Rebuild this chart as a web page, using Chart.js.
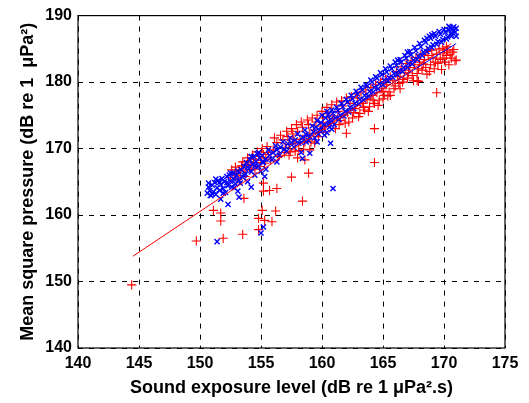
<!DOCTYPE html>
<html>
<head>
<meta charset="utf-8">
<script src="https://cdn.jsdelivr.net/npm/chart.js@4.4.1/dist/chart.umd.min.js"></script>
<style>
  html, body { margin: 0; padding: 0; background: #fff; }
  #chart { display: block; }
</style>
</head>
<body>
<canvas id="chart" width="529" height="403"></canvas>
<script>
// sound exposure level (x) and mean square pressure (y), dB
const redSEL = [
  144.4, 149.7, 151.9, 153.5, 154.8, 151.1, 151.7, 151.7, 155.1, 154.8, 155.3, 155.9, 156.2, 158.4, 157.5, 158.9,
  155.2, 155.2, 155.7, 156.3, 153.6, 162.0, 164.3, 164.3, 169.4, 165.0, 165.6, 166.4, 167.8,
  152.5, 152.8, 153.0, 153.2, 153.3, 153.4, 153.6, 153.8, 154.0, 154.2, 154.4, 154.6, 154.8, 155.0, 155.2, 155.4, 155.6,
  156.0, 156.3, 156.5, 156.8, 157.0, 157.2, 157.4, 157.6, 157.8, 158.0, 158.2, 158.4, 158.5, 158.7, 158.9, 159.1,
  159.3, 159.5, 159.7, 159.9, 160.1, 160.3, 160.5, 160.7, 160.9, 161.1, 161.3, 161.5, 161.7, 161.9, 162.1, 162.3,
  162.5, 162.7, 162.9, 163.1, 163.3, 163.5, 163.7, 163.9, 164.1, 164.3, 164.5, 164.7, 164.9, 165.1, 165.3, 165.5,
  157.3, 158.0, 158.6, 159.0, 157.8,
  165.8, 166.0, 166.2, 166.4, 166.6, 166.8, 167.0, 167.2, 167.4, 167.6, 167.8, 168.0, 168.2, 168.4, 168.5, 168.7,
  168.9, 169.1, 169.2, 169.4, 169.5, 169.7, 169.8, 170.0, 170.1, 170.3, 170.4, 170.6, 170.9, 170.7, 169.9, 168.6,
  167.9, 170.2
];
const redMSP = [
  149.5, 156.1, 156.5, 157.1, 157.8, 160.7, 160.3, 159.1, 160.7, 159.5, 159.2, 159.0, 160.6, 162.1, 165.7, 166.3,
  164.8, 163.6, 163.7, 164.0, 162.5, 172.3, 173.0, 167.9, 178.4, 177.5, 178.0, 179.0, 180.2,
  165.6, 166.0, 166.3, 166.8, 165.9, 167.4, 166.6, 167.6, 168.0, 167.4, 168.4, 167.9, 168.8, 168.2, 169.1, 168.6, 169.4,
  169.8, 170.9, 169.0, 171.3, 170.2, 171.8, 169.5, 172.2, 170.8, 172.6, 171.4, 173.2, 169.9, 172.0, 173.6, 171.0,
  172.8, 174.0, 171.8, 173.4, 174.6, 172.5, 175.2, 173.8, 174.9, 173.0, 175.6, 174.2, 176.4, 173.8, 175.4, 176.8,
  174.6, 176.0, 177.6, 175.3, 176.8, 175.8, 177.4, 176.3, 178.0, 176.8, 178.4, 177.3, 179.0, 178.0, 179.6, 178.5,
  169.0, 168.6, 168.3, 169.8, 169.6,
  180.2, 179.4, 180.8, 181.4, 180.0, 181.8, 180.6, 182.2, 181.0, 182.6, 181.3, 183.0, 181.8, 183.4, 182.2, 184.0,
  182.6, 183.6, 182.0, 184.2, 182.8, 183.4, 181.9, 184.4, 183.0, 184.8, 182.6, 183.6, 183.2, 184.5, 185.1, 181.2,
  180.1, 184.0
];
// second pass through the dense part of the red band
const redBandSEL = [
  152.6, 152.9, 153.1, 153.5, 153.7, 153.9, 154.1, 154.3, 154.5, 154.7, 154.9, 155.1, 155.3, 155.5, 155.8, 156.1,
  156.4, 156.6, 156.9, 157.1, 157.3, 157.5, 157.7, 157.9, 158.1, 158.3, 158.6, 158.8, 159.0, 159.2, 159.4, 159.6,
  159.8, 160.0, 160.2, 160.4, 160.6, 160.8, 161.0, 161.2, 161.4, 161.6, 161.8, 162.0, 162.2, 162.4, 162.6, 162.8,
  163.0, 163.2, 163.4, 163.6, 163.8, 164.0, 164.2, 164.4, 164.6, 164.8, 165.0, 165.2, 165.4, 165.6, 165.9, 166.1,
  166.3, 166.5, 166.7, 166.9, 167.1, 167.3, 167.5, 167.7, 167.9, 168.1, 168.3, 168.6, 168.8, 169.0, 169.3, 169.6,
  169.9, 170.2, 170.5, 170.8, 171.0
];
const redBandMSP = [
  166.8, 167.2, 165.4, 168.0, 165.8, 168.6, 166.8, 169.0, 166.9, 169.5, 167.3, 170.0, 167.8, 170.3, 168.3, 171.6,
  168.8, 172.0, 169.4, 172.6, 170.6, 173.0, 171.4, 173.6, 169.7, 174.0, 171.0, 174.3, 172.2, 174.6, 170.8, 175.0,
  172.4, 175.6, 173.3, 176.2, 174.0, 176.6, 174.5, 177.0, 173.6, 177.2, 175.0, 177.6, 174.0, 177.8, 175.4, 178.2,
  174.8, 178.5, 176.2, 178.8, 175.6, 179.2, 177.2, 179.6, 176.5, 180.0, 178.6, 180.4, 177.9, 180.8, 179.0, 181.6,
  179.8, 182.3, 180.4, 182.8, 181.4, 183.2, 180.2, 183.7, 182.0, 184.1, 182.7, 184.6, 181.6, 184.8, 183.0, 185.0,
  183.6, 185.3, 184.1, 184.9, 183.3
];

const blueSEL = [
  150.6, 150.7, 150.8, 150.9, 151.0, 151.1, 151.2, 151.3, 151.4, 151.5, 151.6, 151.7, 151.8, 151.9, 152.0, 152.1,
  152.2, 152.3, 152.4, 152.5, 152.6, 152.7, 152.8, 152.9, 153.0, 153.1, 153.2,
  153.4, 153.5, 153.6, 153.7, 153.8, 153.9, 154.0, 154.1, 154.2, 154.3, 154.4, 154.5, 154.6, 154.7, 154.8, 154.9,
  155.0, 155.1, 155.2, 155.3, 155.4,
  155.7, 156.0, 156.3, 156.6, 156.9, 157.2, 157.5, 157.8, 158.1, 158.4, 158.7, 159.0, 159.3, 159.5, 159.7, 159.9,
  160.0, 160.2, 160.3, 160.4, 160.5, 160.6, 160.7, 160.8, 160.9, 161.1, 161.3, 161.5, 161.7, 161.9, 162.1, 162.3,
  162.5, 162.7, 162.9, 163.1, 163.3, 163.5, 163.7, 163.9, 164.1, 164.3, 164.5, 164.7, 164.9, 165.1, 165.3, 165.5,
  165.7, 165.9, 166.1, 166.3, 166.5, 166.7, 166.9, 167.1, 167.3, 167.5, 167.7, 167.9, 168.1, 168.3, 168.5, 168.7,
  168.9, 169.1, 169.3, 169.5, 169.7, 169.9, 170.1, 170.3, 170.4, 170.6, 170.7, 170.9, 171.0, 170.8, 170.5, 169.0,
  168.6, 167.0, 166.2,
  151.4, 152.3, 151.7, 153.2, 154.2, 155.2, 155.0, 160.9, 158.4, 158.3, 159.0, 158.7, 159.6, 160.7, 156.3
];
const blueMSP = [
  163.3, 164.2, 163.7, 162.9, 164.5, 163.5, 164.9, 163.1, 164.1, 165.2, 163.7, 164.6, 165.5, 164.0, 165.0, 163.4,
  165.8, 164.4, 166.0, 165.1, 164.2, 166.3, 165.4, 164.7, 166.0, 163.6, 165.2,
  166.8, 165.7, 167.3, 166.2, 167.9, 165.0, 167.0, 168.3, 166.5, 167.6, 168.8, 166.0, 168.0, 169.2, 167.3, 168.6,
  166.6, 169.0, 167.9, 165.8, 168.4,
  169.0, 169.4, 169.8, 170.2, 169.9, 170.7, 170.9, 171.3, 170.8, 171.7, 172.1, 171.8, 172.5, 173.2, 172.2, 173.9,
  172.8, 173.6, 174.6, 172.4, 175.1, 173.8, 174.4, 172.9, 175.3, 174.6, 175.7, 175.0, 176.3, 175.6, 177.0, 176.2,
  177.5, 176.8, 178.2, 177.4, 178.8, 178.0, 179.4, 178.6, 180.0, 179.2, 180.6, 179.7, 181.1, 180.3, 181.5, 180.7,
  182.0, 181.3, 182.5, 181.7, 183.0, 182.2, 183.6, 182.8, 184.1, 183.3, 184.7, 183.9, 185.3, 184.5, 186.0, 185.1,
  186.6, 185.6, 186.9, 186.1, 187.2, 186.4, 187.5, 186.8, 187.8, 187.2, 188.0, 187.5, 188.1, 188.3, 188.2, 187.1,
  186.6, 184.5, 183.3,
  156.0, 161.6, 162.4, 162.7, 164.2, 158.2, 157.3, 164.0, 168.5, 169.4, 169.3, 171.0, 171.0, 170.8, 168.0
];
// second pass through the blue band
const blueBandSEL = [
  150.7, 151.0, 151.3, 151.6, 151.9, 152.2, 152.5, 152.8, 153.1, 153.3, 153.6, 153.9, 154.2, 154.5, 154.8, 155.1,
  155.4, 155.6, 155.9, 156.2, 156.5, 156.8, 157.1, 157.4, 157.7, 158.0, 158.3, 158.6, 158.9, 159.2, 159.4, 159.6,
  159.8, 160.0, 160.2, 160.4, 160.6, 160.8, 161.0, 161.2, 161.4, 161.6, 161.8, 162.0, 162.2, 162.4, 162.6, 162.8,
  163.0, 163.2, 163.4, 163.6, 163.8, 164.0, 164.2, 164.4, 164.6, 164.8, 165.0, 165.2, 165.4, 165.6, 165.8, 166.0,
  166.2, 166.4, 166.6, 166.8, 167.0, 167.2, 167.4, 167.6, 167.8, 168.0, 168.2, 168.4, 168.6, 168.8, 169.0, 169.2,
  169.4, 169.6, 169.8, 170.0, 170.2, 170.4, 170.6, 170.8, 171.0
];
const blueBandMSP = [
  164.8, 163.2, 165.4, 164.9, 163.3, 164.9, 166.3, 164.1, 166.6, 164.8, 166.0, 167.2, 168.8, 167.4, 169.4, 168.0,
  166.9, 169.8, 168.3, 170.4, 169.0, 171.0, 169.6, 171.6, 170.2, 172.2, 170.9, 172.8, 171.2, 173.4, 171.6, 174.2,
  172.8, 175.0, 172.0, 175.6, 173.2, 175.8, 173.6, 176.2, 174.4, 176.8, 174.9, 177.4, 175.5, 178.0, 176.0, 178.6,
  176.7, 179.2, 177.3, 179.6, 177.9, 180.3, 178.5, 180.8, 179.0, 181.4, 179.6, 182.0, 180.2, 182.4, 180.7, 183.0,
  181.1, 183.4, 181.6, 184.0, 182.2, 184.6, 182.7, 185.2, 183.4, 185.8, 184.0, 186.3, 184.6, 186.9, 185.2, 187.3,
  185.7, 187.6, 186.0, 187.9, 186.5, 188.4, 186.9, 187.8, 186.9
];

// fitted lines, end points only
const redFitSEL = [144.5, 170.6];
const redFitMSP = [153.8, 185.8];
const blueFitSEL = [150.6, 171.0];
const blueFitMSP = [162.6, 185.8];

const xTicks = [140, 145, 150, 155, 160, 165, 170, 175];
const yTicks = [140, 150, 160, 170, 180, 190];

function pairs(xs, ys) {
  return xs.map((x, i) => ({ x: x, y: ys[i] }));
}

const tickFont = { family: "'Liberation Sans', Arial, sans-serif", size: 16, weight: 'bold' };
const titleFont = { family: "'Liberation Sans', Arial, sans-serif", size: 18, weight: 'bold' };

// box round the plot area, like a matlab axes
const boxPlugin = {
  id: 'box',
  afterDraw(chart) {
    const a = chart.chartArea;
    const ctx = chart.ctx;
    ctx.save();
    ctx.strokeStyle = '#000';
    ctx.lineWidth = 1.2;
    ctx.strokeRect(a.left, a.top, a.right - a.left, a.bottom - a.top);
    ctx.restore();
  }
};

new Chart(document.getElementById('chart'), {
  type: 'scatter',
  data: {
    datasets: [
      {
        type: 'line',
        data: pairs(redFitSEL, redFitMSP),
        borderColor: '#ff0000',
        borderWidth: 1,
        pointRadius: 0,
        order: 0
      },
      {
        type: 'line',
        data: pairs(blueFitSEL, blueFitMSP),
        borderColor: '#0000ff',
        borderWidth: 1,
        pointRadius: 0,
        order: 1
      },
      {
        data: pairs(blueSEL, blueMSP).concat(pairs(blueBandSEL, blueBandMSP)),
        pointStyle: 'crossRot',
        pointRadius: 3.6,
        borderColor: '#0000ff',
        backgroundColor: '#0000ff',
        pointBorderWidth: 1.4,
        order: 2
      },
      {
        data: pairs(redSEL, redMSP).concat(pairs(redBandSEL, redBandMSP)),
        pointStyle: 'cross',
        pointRadius: 4.6,
        borderColor: '#ff0000',
        backgroundColor: '#ff0000',
        pointBorderWidth: 1.1,
        order: 3
      }
    ]
  },
  options: {
    responsive: false,
    animation: false,
    events: [],
    layout: { padding: { left: 0, right: 24, top: 15, bottom: 0 } },
    plugins: { legend: { display: false }, tooltip: { enabled: false } },
    scales: {
      x: {
        type: 'linear',
        min: 140,
        max: 175,
        afterBuildTicks(scale) { scale.ticks = xTicks.map(v => ({ value: v })); },
        afterFit(scale) { scale.height = 55; },
        grid: { color: '#000', lineWidth: 1, drawTicks: false },
        border: { display: false, dash: [5, 6] },
        ticks: { color: '#000', font: tickFont, padding: 6, maxRotation: 0 },
        title: {
          display: true,
          text: 'Sound exposure level (dB re 1 \u03bcPa\u00b2.s)',
          color: '#000',
          font: titleFont,
          padding: { top: 0, bottom: 4 }
        }
      },
      y: {
        type: 'linear',
        min: 140,
        max: 190,
        afterBuildTicks(scale) { scale.ticks = yTicks.map(v => ({ value: v })); },
        afterFit(scale) { scale.width = 78; },
        grid: { color: '#000', lineWidth: 1, drawTicks: false },
        border: { display: false, dash: [5, 6] },
        ticks: { color: '#000', font: tickFont, padding: 6 },
        title: {
          display: true,
          text: 'Mean square pressure (dB re 1  \u03bcPa\u00b2)',
          color: '#000',
          font: titleFont,
          padding: { top: 17, bottom: 0 }
        }
      }
    }
  },
  plugins: [boxPlugin]
});
</script>
</body>
</html>
